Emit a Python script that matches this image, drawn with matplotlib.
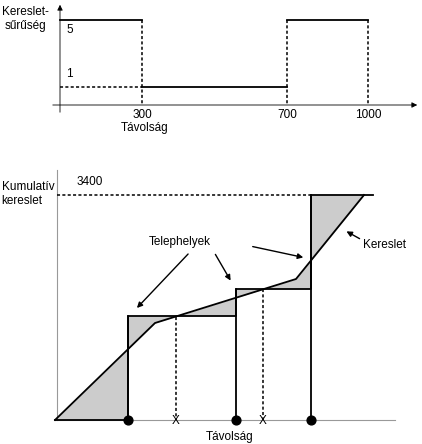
import matplotlib
matplotlib.use("Agg")
import matplotlib.pyplot as plt
import numpy as np

plt.rcParams['font.family'] = ['Liberation Sans', 'DejaVu Sans']

# Top chart (positions on drawing scale)
top_x = [60, 142, 287, 368]          # 0, 300, 700, 1000
top_tick_labels = ["300", "700", "1000"]
density_levels = [5, 1]
level_y = [20, 87]                   # drawing heights for 5 and 1

# Bottom chart
curve_x = [55, 155, 296, 364]
curve_y = [420, 323, 279, 195]
step_x = [55, 128, 128, 236, 236, 311, 311, 373]
step_y = [420, 420, 316, 316, 289, 289, 195, 195]
facilities = [128, 236, 311]
x_marks = [176, 263]
x_mark_top = [317, 289]

fs = 8.5
fig = plt.figure(figsize=(4.22, 4.44), dpi=100)
ax = fig.add_axes([0, 0, 1, 1])
ax.set_xlim(0, 422); ax.set_ylim(444, 0); ax.axis('off')
k = dict(color='black', lw=1.3)
d = dict(color='black', lw=1.1, ls=(0, (2, 1.5)))

# --- top
ax.annotate('', xy=(60, 2), xytext=(60, 115), arrowprops=dict(arrowstyle='-|>', color='black', lw=0.6, mutation_scale=8))
ax.annotate('', xy=(420, 105), xytext=(50, 105), arrowprops=dict(arrowstyle='-|>', color='black', lw=0.6, mutation_scale=8))
ax.plot([60, top_x[1]], [level_y[0]]*2, **k)
ax.plot([top_x[2], top_x[3]], [level_y[0]]*2, **k)
ax.plot([top_x[1], top_x[2]], [level_y[1]]*2, **k)
ax.plot([60, top_x[1]], [level_y[1]]*2, **d)
for x in top_x[1:]:
    ax.plot([x, x], [level_y[0], 105], **d)
for x, t in zip(top_x[1:], top_tick_labels):
    ax.text(x, 115, t, ha='center', va='center', fontsize=fs)
ax.text(145, 128, "Távolság", ha='center', va='center', fontsize=fs)
ax.text(25, 12, "Kereslet-", ha='center', va='center', fontsize=fs)
ax.text(25, 26, "sűrűség", ha='center', va='center', fontsize=fs)
for lv, y, off in zip(density_levels, level_y, [10, -13]):
    ax.text(66, y + off, str(lv), ha='left', va='center', fontsize=fs)

# --- bottom
xs = np.linspace(55, 373, 2000)
cy = np.interp(xs, curve_x, curve_y, right=195)
sy = np.where(xs < 128, 420, np.where(xs < 236, 316, np.where(xs < 311, 289, 195)))
ax.fill_between(xs, cy, sy, color='#cccccc', lw=0)
ax.plot([57, 57], [170, 420], color='#999999', lw=0.8)
ax.plot([55, 395], [420, 420], color='#999999', lw=0.8)
ax.plot(curve_x, curve_y, **k)
ax.plot(step_x, step_y, **k)
for f in facilities:
    ax.plot([f, f], [420, 289 if f == 236 else (316 if f == 128 else 195)], **k)
ax.plot([57, 311], [195, 195], **d)
for x, t in zip(x_marks, x_mark_top):
    ax.plot([x, x], [t, 420], **d)
    ax.text(x, 421, "X", ha='center', va='center', fontsize=fs)
ax.scatter(facilities, [420]*3, s=40, color='black', zorder=5)
ax.text(230, 437, "Távolság", ha='center', va='center', fontsize=fs)
ax.text(28, 187, "Kumulatív", ha='center', va='center', fontsize=fs)
ax.text(22, 201, "kereslet", ha='center', va='center', fontsize=fs)
ax.text(90, 182, "3400", ha='center', va='center', fontsize=fs)
ax.text(180, 242, "Telephelyek", ha='center', va='center', fontsize=fs)
ax.text(385, 245, "Kereslet", ha='center', va='center', fontsize=fs)
ap = dict(arrowstyle='-|>', color='black', lw=1.0, mutation_scale=8)
ax.annotate('', xy=(135, 310), xytext=(190, 252), arrowprops=ap)
ax.annotate('', xy=(232, 283), xytext=(214, 252), arrowprops=ap)
ax.annotate('', xy=(306, 258), xytext=(250, 246), arrowprops=ap)
ax.annotate('', xy=(344, 230), xytext=(362, 240), arrowprops=ap)

fig.savefig("out.png", dpi=100)
